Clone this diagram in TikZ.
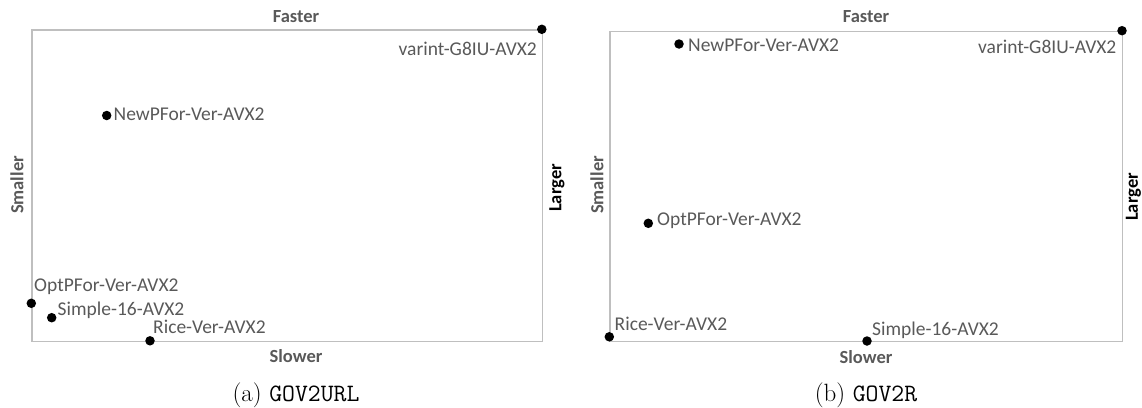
\documentclass[tikz,border=0pt]{standalone}
\usepackage{fontspec}
\setmainfont{Carlito}
\newfontfamily\capfont{Latin Modern Roman}
\newfontfamily\captt{Latin Modern Mono}
\definecolor{axisgray}{HTML}{595959}
\definecolor{framegray}{HTML}{BFBFBF}
\begin{document}
\begin{tikzpicture}[x=1pt,y=-1pt,
  frame/.style={draw=framegray,line width=1.3pt},
  pt/.style={circle,fill=black,inner sep=0pt,minimum size=9.5pt},
  lbl/.style={font=\fontsize{19.5}{22}\selectfont,text=axisgray,inner sep=0pt},
  axlbl/.style={font=\fontsize{18.5}{21}\selectfont\bfseries,text=axisgray,inner sep=0pt},
  axlblk/.style={font=\fontsize{18.5}{21}\selectfont\bfseries,text=black,inner sep=0pt},
  subcap/.style={font=\fontsize{25}{30}\selectfont,inner sep=0pt}]
\useasboundingbox (0,0) rectangle (1142,407);

% ---------- (a) GOV2URL ----------
\node[frame,inner sep=0pt,minimum width=510.5pt,minimum height=311.5pt,anchor=north west] (fa) at (31.3,29.3) {};
\node[axlbl] (fasterA) at (296,16.5) {Faster};
\node[axlbl] (slowerA) at (296,356.5) {Slower};
\node[axlbl,rotate=90] (smallerA) at (17,185) {Smaller};
\node[axlblk,rotate=90] (largerA) at (557,188) {Larger};

\node[pt] (a1) at (541.8,29.3) {};
\node[lbl,anchor=east] (a1l) at (537,48.5) {varint-G8IU-AVX2};
\node[pt] (a2) at (106.7,115.5) {};
\node[lbl,anchor=west] (a2l) at (113.5,114.5) {NewPFor-Ver-AVX2};
\node[pt] (a3) at (31.3,303.3) {};
\node[lbl,anchor=west] (a3l) at (34,286.5) {OptPFor-Ver-AVX2};
\node[pt] (a4) at (51.7,317.7) {};
\node[lbl,anchor=west] (a4l) at (57.5,310) {Simple-16-AVX2};
\node[pt] (a5) at (150,340.8) {};
\node[lbl,anchor=west] (a5l) at (153,326.5) {Rice-Ver-AVX2};

\node[subcap] (capA) at (296,395) {\capfont (a) \captt GOV2URL};

% ---------- (b) GOV2R ----------
\node[frame,inner sep=0pt,minimum width=512.7pt,minimum height=310.3pt,anchor=north west] (fb) at (609.3,30.7) {};
\node[axlbl] (fasterB) at (866,17) {Faster};
\node[axlbl] (slowerB) at (866,357) {Slower};
\node[axlbl,rotate=90] (smallerB) at (597,185) {Smaller};
\node[axlblk,rotate=90] (largerB) at (1133.5,197) {Larger};

\node[pt] (b1) at (1122,30.7) {};
\node[lbl,anchor=east] (b1l) at (1116.5,46.5) {varint-G8IU-AVX2};
\node[pt] (b2) at (679,44) {};
\node[lbl,anchor=west] (b2l) at (688,45) {NewPFor-Ver-AVX2};
\node[pt] (b3) at (648.3,223.3) {};
\node[lbl,anchor=west] (b3l) at (657,220.7) {OptPFor-Ver-AVX2};
\node[pt] (b4) at (609.3,336.8) {};
\node[lbl,anchor=west] (b4l) at (614.5,324.3) {Rice-Ver-AVX2};
\node[pt] (b5) at (867,341) {};
\node[lbl,anchor=west] (b5l) at (872,330.5) {Simple-16-AVX2};

\node[subcap] (capB) at (866,395) {\capfont (b) \captt GOV2R};
\end{tikzpicture}
\end{document}
